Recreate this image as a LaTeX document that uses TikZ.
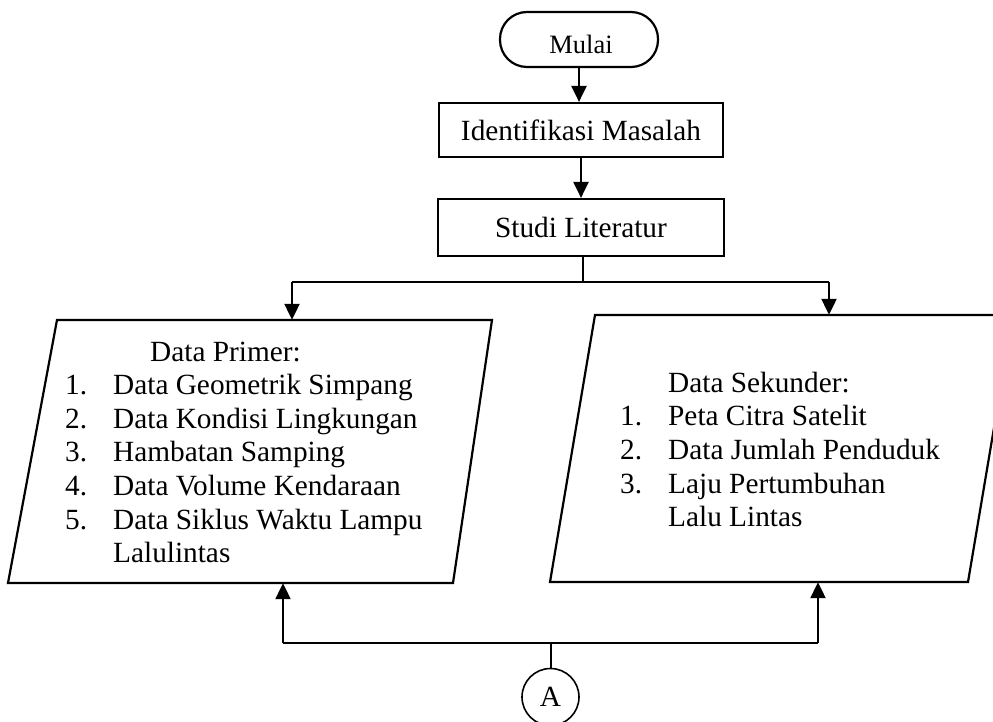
\documentclass[tikz,border=0pt]{standalone}
\usepackage{fontspec}
\setmainfont{Liberation Serif}
\usetikzlibrary{arrows.meta}
\begin{document}
\begin{tikzpicture}[x=1pt,y=-1pt,
  conn/.style={line width=2.2pt},
  arr/.style={line width=2.2pt,-{Triangle[length=16pt,width=15pt]}},
  procbox/.style={draw,line width=2.2pt,inner sep=0pt,font=\fontsize{29.3}{33.6}\selectfont},
  txt/.style={inner sep=0pt,anchor=base west,font=\fontsize{29.3}{33.6}\selectfont},
  hold/.style={inner sep=0pt,draw=none}]
\clip (0,0) rectangle (993,722);
% start terminal
\node[procbox,rounded corners=27pt,minimum width=158pt,minimum height=55pt] (mulai) at (579,39.5) {};
\node[inner sep=0pt,anchor=base,font=\fontsize{26.5}{30}\selectfont] (mulaitxt) at (581,54) {Mulai};
% processes
\node[procbox,minimum width=284pt,minimum height=54pt] (ident) at (581,130) {Identifikasi Masalah};
\node[procbox,minimum width=286pt,minimum height=57pt] (studi) at (581,227.5) {Studi Literatur};
% data parallelograms
\draw[line width=2.2pt] (57,320) -- (492,320) -- (453,583) -- (8,583) -- cycle;
\node[hold,minimum width=484pt,minimum height=263pt] (primer) at (250,451.5) {};
\draw[line width=2.2pt] (595,315) -- (1013,315) -- (968,582) -- (550,582) -- cycle;
\node[hold,minimum width=463pt,minimum height=267pt] (sekunder) at (781.5,448.5) {};
% primary text
\node[txt] (p0) at (150,361) {Data Primer:};
\node[txt] (p1n) at (65,394.6) {1.};
\node[txt] (p1) at (113,394.6) {Data Geometrik Simpang};
\node[txt] (p2n) at (65,428.2) {2.};
\node[txt] (p2) at (113,428.2) {Data Kondisi Lingkungan};
\node[txt] (p3n) at (65,461.8) {3.};
\node[txt] (p3) at (113,461.8) {Hambatan Samping};
\node[txt] (p4n) at (65,495.4) {4.};
\node[txt] (p4) at (113,495.4) {Data Volume Kendaraan};
\node[txt] (p5n) at (65,529) {5.};
\node[txt] (p5) at (113,529) {Data Siklus Waktu Lampu};
\node[txt] (p5b) at (113,562.6) {Lalulintas};
% secondary text
\node[txt] (s0) at (668,392) {Data Sekunder:};
\node[txt] (s1n) at (620,425.7) {1.};
\node[txt] (s1) at (668,425.7) {Peta Citra Satelit};
\node[txt] (s2n) at (620,459.4) {2.};
\node[txt] (s2) at (668,459.4) {Data Jumlah Penduduk};
\node[txt] (s3n) at (620,493.1) {3.};
\node[txt] (s3) at (668,493.1) {Laju Pertumbuhan};
\node[txt] (s3b) at (668,526.8) {Lalu Lintas};
% connector A
\node[draw,circle,line width=1.6pt,minimum size=57pt,inner sep=0pt,font=\fontsize{29.3}{33.6}\selectfont] (A) at (550.5,697) {A};
% connectors
\draw[arr] (mulai.south) -- (mulai.south |- ident.north);
\draw[arr] (ident.south) -- (ident.south |- studi.north);
\coordinate (split) at (583,282);
\coordinate (jL) at (292,282);
\coordinate (jR) at (829,282);
\draw[conn] (studi.south -| split) -- (split);
\draw[conn] (jL) -- (jR);
\draw[arr] (jL) -- (jL |- primer.north);
\draw[arr] (jR) -- (jR |- sekunder.north);
\coordinate (bL) at (283,643);
\coordinate (bR) at (818,643);
\draw[conn] (bL) -- (bR);
\draw[line width=2pt] (A.north) -- (A.north |- bL);
\draw[arr] (bL) -- (bL |- primer.south);
\draw[arr] (bR) -- (bR |- sekunder.south);
\end{tikzpicture}
\end{document}
